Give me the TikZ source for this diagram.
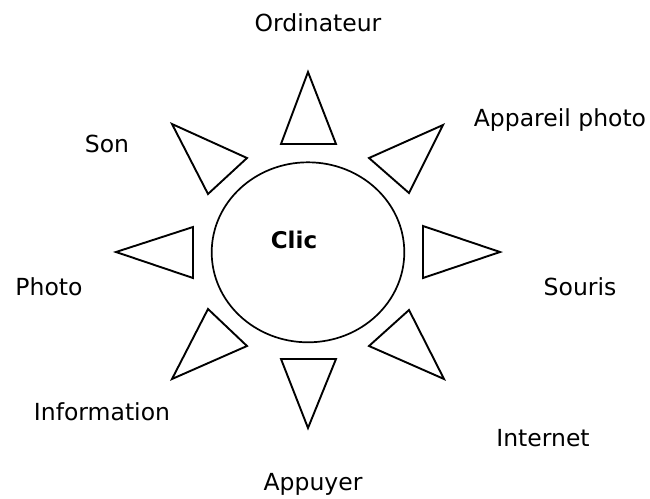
\documentclass[tikz,border=0pt]{standalone}
\usepackage{fontspec}
\setmainfont{DejaVu Sans}
\begin{document}
\begin{tikzpicture}[x=1pt,y=-1pt,
  tri/.style={draw=black,line width=1.9pt,line join=miter},
  lbl/.style={anchor=base,inner sep=0pt,font=\fontsize{23.5}{28}\selectfont}]
\useasboundingbox (0,0) rectangle (650,498);
% centre
\draw[line width=1.7pt] (308,252.3) ellipse [x radius=96.3, y radius=90];
\node[lbl,font=\fontsize{23}{28}\selectfont\bfseries] (clic) at (294,248) {Clic};
% triangles
\draw[tri] (308,72) -- (281,144) -- (336,144) -- cycle;
\draw[tri] (443,125) -- (369,158) -- (409,193) -- cycle;
\draw[tri] (172,124) -- (247,158) -- (208,194) -- cycle;
\draw[tri] (116,252) -- (193,227) -- (193,278) -- cycle;
\draw[tri] (500,252) -- (423,226) -- (423,278) -- cycle;
\draw[tri] (308,428) -- (281,359) -- (336,359) -- cycle;
\draw[tri] (172,379) -- (208,309) -- (247,346) -- cycle;
\draw[tri] (444,379) -- (409,310) -- (369,346) -- cycle;
% labels
\node[lbl] (ordi) at (318,31) {Ordinateur};
\node[lbl] (app) at (560,126) {Appareil photo};
\node[lbl] (son) at (107,152) {Son};
\node[lbl] (photo) at (49,295) {Photo};
\node[lbl] (souris) at (580,295) {Souris};
\node[lbl] (info) at (102,420) {Information};
\node[lbl] (inet) at (543,446) {Internet};
\node[lbl] (appuyer) at (313,490) {Appuyer};
\end{tikzpicture}
\end{document}
